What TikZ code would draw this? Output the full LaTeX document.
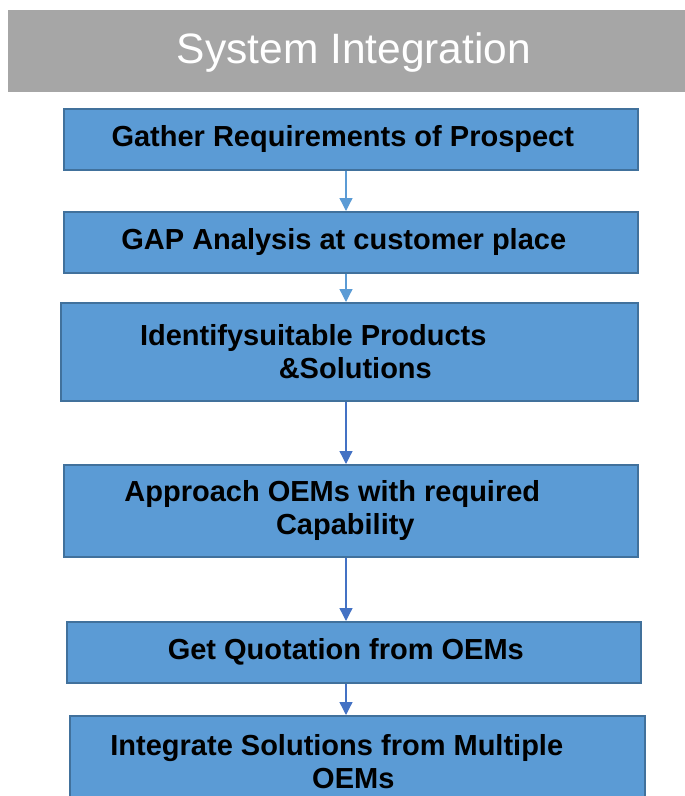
\documentclass[tikz,border=0pt]{standalone}
\usepackage{fontspec}
\setmainfont{Liberation Sans}
\usetikzlibrary{positioning,arrows.meta}
\definecolor{boxfill}{HTML}{5B9BD5}
\definecolor{boxline}{HTML}{41719C}
\definecolor{titlegray}{HTML}{A6A6A6}
\definecolor{lightarrow}{HTML}{5B9BD5}
\definecolor{darkarrow}{HTML}{4472C4}
\begin{document}
\begin{tikzpicture}[x=1pt, y=-1pt,
  stepbox/.style={rectangle, draw=boxline, line width=1.6pt, fill=boxfill, anchor=north west,
    inner sep=0pt, align=center, font=\fontsize{29}{33}\selectfont\bfseries},
  flow/.style={-{Triangle[width=13pt,length=13pt]}, line width=1.3pt}]

\useasboundingbox (0,0) rectangle (685,796);
\fill[titlegray] (8,10) rectangle (685,92);
\node[text=white, font=\fontsize{42.5}{46}\selectfont] (title) at (354,53) {System Integration};

\node[stepbox, minimum width=574pt, minimum height=61pt] (gather) at (63,108)
  {Gather Requirements of Prospect\hspace*{16pt}};
\node[stepbox, minimum width=574pt, minimum height=61pt] (gap) at (63,211)
  {GAP Analysis at customer place\hspace*{14pt}};
\node[stepbox, minimum width=577pt, minimum height=98pt] (identify) at (60,302)
  {Identifysuitable Products\hspace*{72pt}\\\hspace*{12pt}\&Solutions};
\node[stepbox, minimum width=574pt, minimum height=92pt] (approach) at (63,464)
  {Approach OEMs with required\hspace*{37pt}\\Capability\hspace*{11pt}};
\node[stepbox, minimum width=574pt, minimum height=61pt] (quote) at (66,621)
  {Get Quotation from OEMs\hspace*{16pt}};
\node[stepbox, minimum width=575pt, minimum height=92pt] (integrate) at (69,715)
  {Integrate Solutions from Multiple\hspace*{41pt}\\OEMs\hspace*{8pt}};

\coordinate (spine) at (346,0);
\draw[flow, lightarrow] (gather.south -| spine) -- (gap.north -| spine);
\draw[flow, lightarrow] (gap.south -| spine) -- (identify.north -| spine);
\draw[flow, darkarrow] (identify.south -| spine) -- (approach.north -| spine);
\draw[flow, darkarrow] (approach.south -| spine) -- (quote.north -| spine);
\draw[flow, darkarrow] (quote.south -| spine) -- (integrate.north -| spine);
\end{tikzpicture}
\end{document}
